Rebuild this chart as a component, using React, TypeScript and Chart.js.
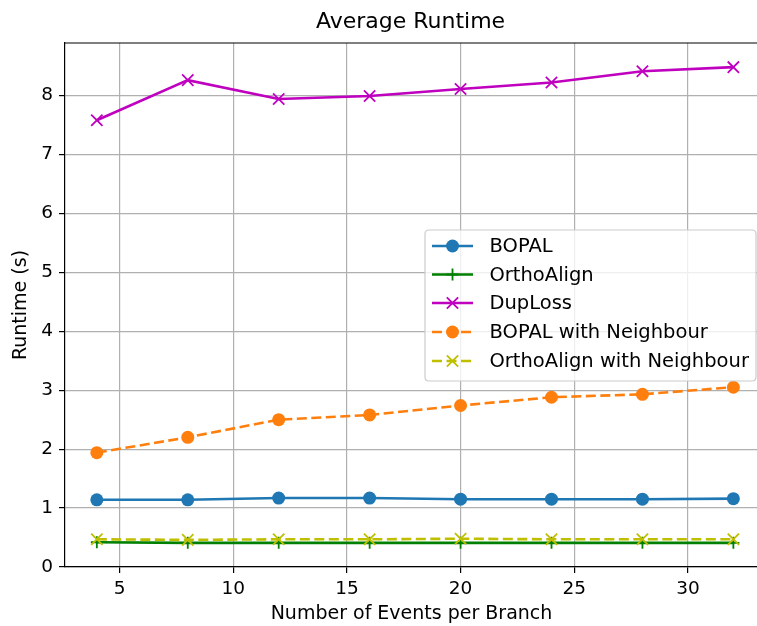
import React, { useEffect, useRef } from "react";
import { Chart, registerables } from "chart.js";

Chart.register(...registerables);

const xValues = [4, 8, 12, 16, 20, 24, 28, 32];
const bopal = [1.14, 1.14, 1.17, 1.17, 1.15, 1.15, 1.15, 1.16];
const orthoAlign = [0.42, 0.41, 0.41, 0.41, 0.41, 0.41, 0.41, 0.41];
const dupLoss = [7.58, 8.26, 7.94, 7.99, 8.11, 8.22, 8.41, 8.48];
const bopalNeighbour = [1.94, 2.2, 2.5, 2.58, 2.74, 2.88, 2.93, 3.05];
const orthoAlignNeighbour = [0.47, 0.46, 0.47, 0.47, 0.48, 0.47, 0.47, 0.47];
const seriesNames = [
  "BOPAL",
  "OrthoAlign",
  "DupLoss",
  "BOPAL with Neighbour",
  "OrthoAlign with Neighbour",
];
const xTicks = [5, 10, 15, 20, 25, 30];
const yTicks = [0, 1, 2, 3, 4, 5, 6, 7, 8];

const FONT = "'DejaVu Sans', sans-serif";

function drawMarker(ctx: CanvasRenderingContext2D, style: string, x: number, y: number, r: number, color: string, bw: number) {
  ctx.save();
  ctx.setLineDash([]);
  ctx.strokeStyle = color;
  ctx.fillStyle = color;
  ctx.lineWidth = bw;
  ctx.beginPath();
  if (style === "circle") {
    ctx.arc(x, y, r, 0, Math.PI * 2);
    ctx.fill();
  } else if (style === "cross") {
    ctx.moveTo(x - r, y);
    ctx.lineTo(x + r, y);
    ctx.moveTo(x, y - r);
    ctx.lineTo(x, y + r);
    ctx.stroke();
  } else {
    const d = r * Math.SQRT1_2;
    ctx.moveTo(x - d, y - d);
    ctx.lineTo(x + d, y + d);
    ctx.moveTo(x - d, y + d);
    ctx.lineTo(x + d, y - d);
    ctx.stroke();
  }
  ctx.restore();
}

const overlayPlugin = {
  id: "overlay",
  afterDraw(chart: any) {
    const ctx = chart.ctx as CanvasRenderingContext2D;
    const a = chart.chartArea;
    ctx.save();
    // top spine
    ctx.strokeStyle = "#000";
    ctx.lineWidth = 1.2;
    ctx.beginPath();
    ctx.moveTo(a.left, a.top);
    ctx.lineTo(a.right, a.top);
    ctx.stroke();
    // title
    ctx.fillStyle = "#000";
    ctx.textAlign = "center";
    ctx.textBaseline = "middle";
    ctx.font = `22px ${FONT}`;
    ctx.fillText("Average Runtime", 410.5, 22);
    // x label
    ctx.font = `19px ${FONT}`;
    ctx.fillText("Number of Events per Branch", 411.5, 614);
    // y label
    ctx.save();
    ctx.translate(21, 305);
    ctx.rotate(-Math.PI / 2);
    ctx.fillText("Runtime (s)", 0, 0);
    ctx.restore();

    // legend
    const lx = 425, ly = 230, lw = 331, lh = 151, rad = 4;
    ctx.beginPath();
    ctx.moveTo(lx + rad, ly);
    ctx.lineTo(lx + lw - rad, ly);
    ctx.quadraticCurveTo(lx + lw, ly, lx + lw, ly + rad);
    ctx.lineTo(lx + lw, ly + lh - rad);
    ctx.quadraticCurveTo(lx + lw, ly + lh, lx + lw - rad, ly + lh);
    ctx.lineTo(lx + rad, ly + lh);
    ctx.quadraticCurveTo(lx, ly + lh, lx, ly + lh - rad);
    ctx.lineTo(lx, ly + rad);
    ctx.quadraticCurveTo(lx, ly, lx + rad, ly);
    ctx.closePath();
    ctx.fillStyle = "rgba(255,255,255,0.8)";
    ctx.fill();
    ctx.strokeStyle = "#cccccc";
    ctx.lineWidth = 1.2;
    ctx.stroke();

    const rows = [246, 274.5, 303, 332, 361];
    chart.data.datasets.forEach((ds: any, i: number) => {
      const y = rows[i];
      ctx.save();
      ctx.strokeStyle = ds.borderColor;
      ctx.lineWidth = ds.borderWidth;
      ctx.setLineDash(ds.borderDash || []);
      ctx.beginPath();
      ctx.moveTo(432, y);
      ctx.lineTo(473, y);
      ctx.stroke();
      ctx.restore();
      drawMarker(ctx, ds.pointStyle, 452.5, y, ds.legendRadius, ds.pointBackgroundColor, ds.pointBorderWidth);
      ctx.fillStyle = "#000";
      ctx.textAlign = "left";
      ctx.textBaseline = "middle";
      ctx.font = `19.5px ${FONT}`;
      ctx.fillText(ds.label, 489.5, y + 1);
    });
    ctx.restore();
  },
};

function makePoints(values: number[]) {
  return values.map((v, i) => ({ x: xValues[i], y: v }));
}

export default function App() {
  const ref = useRef<HTMLCanvasElement>(null);
  useEffect(() => {
    const seriesValues = [bopal, orthoAlign, dupLoss, bopalNeighbour, orthoAlignNeighbour];
    const colors = ["#1f77b4", "#008000", "#bf00bf", "#ff7f0e", "#bfbf00"];
    const styles = ["circle", "cross", "crossRot", "circle", "crossRot"];
    const radii = [6.5, 6, 8, 6.5, 8];
    const dashes = [[], [], [], [10, 4.5], [10, 4.5]];
    const datasets = seriesValues.map((vals, i) => ({
      label: seriesNames[i],
      data: makePoints(vals),
      borderColor: colors[i],
      backgroundColor: colors[i],
      pointBackgroundColor: colors[i],
      pointBorderColor: colors[i],
      borderWidth: 2.6,
      borderDash: dashes[i],
      pointStyle: styles[i],
      pointRadius: radii[i],
      pointBorderWidth: styles[i] === "circle" ? 0 : 1.8,
      legendRadius: radii[i],
      order: 5 - i,
      tension: 0,
      fill: false,
    }));
    const chart = new Chart(ref.current as HTMLCanvasElement, {
      type: "line",
      data: { datasets: datasets as any },
      options: {
        animation: false,
        responsive: false,
        events: [],
        layout: { padding: { top: 43, right: 7.5, left: 0, bottom: 0 } },
        plugins: { legend: { display: false }, tooltip: { enabled: false }, title: { display: false } },
        scales: {
          x: {
            type: "linear",
            min: 2.6,
            max: 33.4,
            afterBuildTicks: (s: any) => {
              s.ticks = xTicks.map((v) => ({ value: v }));
            },
            afterFit: (s: any) => {
              s.height = 59;
            },
            grid: { color: "#b0b0b0", lineWidth: 1.2, tickColor: "#000", tickLength: 6, drawTicks: true },
            border: { display: true, color: "#000", width: 1.2 },
            ticks: { color: "#000", font: { family: FONT, size: 18.5 }, padding: 5, maxRotation: 0, autoSkip: false },
          },
          y: {
            type: "linear",
            min: 0,
            max: 8.89,
            afterBuildTicks: (s: any) => {
              s.ticks = yTicks.map((v) => ({ value: v }));
            },
            afterFit: (s: any) => {
              s.width = 65;
            },
            grid: { color: "#b0b0b0", lineWidth: 1.2, tickColor: "#000", tickLength: 6, drawTicks: true },
            border: { display: true, color: "#000", width: 1.2 },
            ticks: { color: "#000", font: { family: FONT, size: 18.5 }, padding: 6, autoSkip: false },
          },
        },
      },
      plugins: [overlayPlugin],
    });
    return () => chart.destroy();
  }, []);
  return (
    <div style={{ position: "fixed", left: 0, top: 0, width: 775, height: 626, background: "#fff" }}>
      <canvas ref={ref} width={775} height={626} style={{ width: 775, height: 626, display: "block" }} />
    </div>
  );
}
